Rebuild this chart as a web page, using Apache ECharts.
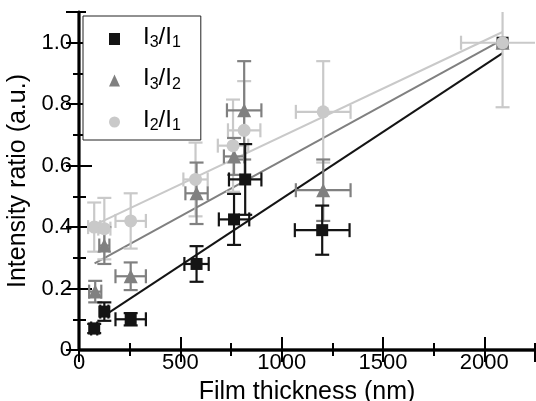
<!DOCTYPE html>
<html>
<head>
<meta charset="utf-8">
<script src="https://cdn.jsdelivr.net/npm/echarts@6/dist/echarts.min.js"></script>
<style>
  html, body { margin: 0; padding: 0; background: #fff; }
  #chart { width: 536px; height: 401px; }
</style>
</head>
<body>
<div id="chart"></div>
<script>
// Film thickness (nm) with its spread, and intensity ratio with its spread
const i31Thickness    = [75, 125, 255, 580, 765, 820, 1200, 2090];
const i31Ratio        = [0.07, 0.125, 0.10, 0.28, 0.425, 0.555, 0.39, 1.0];
const i31ThicknessErr = [15, 20, 75, 60, 75, 80, 135, 0];
const i31RatioErr     = [0.015, 0.03, 0.02, 0.058, 0.083, 0.115, 0.08, 0];

const i32Thickness    = [80, 125, 255, 580, 765, 815, 1205, 2090];
const i32Ratio        = [0.19, 0.34, 0.24, 0.51, 0.63, 0.78, 0.52, 1.0];
const i32ThicknessErr = [30, 25, 75, 55, 50, 85, 135, 0];
const i32RatioErr     = [0.035, 0.06, 0.045, 0.10, 0.06, 0.16, 0.10, 0];

const i21Thickness    = [75, 125, 255, 575, 760, 815, 1205, 2090];
const i21Ratio        = [0.40, 0.395, 0.42, 0.555, 0.665, 0.715, 0.775, 1.0];
const i21ThicknessErr = [30, 30, 75, 60, 75, 80, 135, 205];
const i21RatioErr     = [0.08, 0.10, 0.09, 0.12, 0.15, 0.16, 0.165, 0.21];

// Linear fits: [thickness, ratio] at both ends
const i31Fit = [[125, 0.112], [2090, 0.966]];
const i32Fit = [[77, 0.282], [2090, 1.01]];
const i21Fit = [[70, 0.405], [2090, 1.035]];

// Legend names and their subscripts
const seriesNames = ['I3/I1', 'I3/I2', 'I2/I1'];
const seriesSubs  = [['3', '1'], ['3', '2'], ['2', '1']];

const X_MAX = 2250, Y_MAX = 1.1;
const FONT = 'Liberation Sans, Arial, sans-serif';
const BLACK = '#141414', DARK = '#808080', LIGHT = '#c9c9c9';

function rows(xs, ys, dxs, dys) {
  return xs.map((x, i) => [x, ys[i], dxs[i], dys[i]]);
}

function errorBars(color) {
  return function (params, api) {
    const x = api.value(0), y = api.value(1), dx = api.value(2), dy = api.value(3);
    const c = api.coord([x, y]);
    const cap = 7;
    const style = { stroke: color, lineWidth: 2.2, fill: null };
    const kids = [];
    const seg = (x1, y1, x2, y2) => kids.push({ type: 'line', shape: { x1, y1, x2, y2 }, style });
    if (dy > 0) {
      const t = api.coord([x, y + dy])[1], b = api.coord([x, y - dy])[1];
      seg(c[0], t, c[0], b);
      seg(c[0] - cap, t, c[0] + cap, t);
      seg(c[0] - cap, b, c[0] + cap, b);
    }
    if (dx > 0) {
      const l = api.coord([x - dx, y])[0], r = api.coord([x + dx, y])[0];
      seg(l, c[1], r, c[1]);
      seg(l, c[1] - cap, l, c[1] + cap);
      seg(r, c[1] - cap, r, c[1] + cap);
    }
    return { type: 'group', children: kids };
  };
}

const axisLine = { show: true, lineStyle: { color: '#000', width: 2.4 } };

function xAxis(pos, interval, tickLen, labels) {
  return {
    type: 'value', position: pos, min: 0, max: X_MAX, interval,
    axisLine, splitLine: { show: false },
    axisTick: { show: true, inside: true, length: tickLen, lineStyle: { color: '#000', width: 2 } },
    axisLabel: labels ? {
      show: true, fontSize: 22, color: '#000', fontFamily: FONT, margin: 2, showMaxLabel: false,
      formatter: v => String(v)
    } : { show: false },
    name: labels ? 'Film thickness (nm)' : '',
    nameLocation: 'middle', nameGap: 30,
    nameTextStyle: { fontSize: 25, color: '#000', fontFamily: FONT }
  };
}

function yAxis(pos, interval, tickLen, labels) {
  return {
    type: 'value', position: pos, min: 0, max: Y_MAX, interval,
    axisLine, splitLine: { show: false },
    axisTick: { show: true, inside: true, length: tickLen, lineStyle: { color: '#000', width: 2 } },
    axisLabel: labels ? {
      show: true, fontSize: 22, color: '#000', fontFamily: FONT, margin: 7, showMaxLabel: false,
      formatter: v => (v === 0 ? '0' : v.toFixed(1))
    } : { show: false },
    name: labels ? 'Intensity ratio (a.u.)' : '',
    nameLocation: 'middle', nameGap: 43,
    nameTextStyle: { fontSize: 25, color: '#000', fontFamily: FONT }
  };
}

const groups = [
  { name: seriesNames[0], color: BLACK, symbol: 'rect', size: 12,
    data: rows(i31Thickness, i31Ratio, i31ThicknessErr, i31RatioErr), fit: i31Fit },
  { name: seriesNames[1], color: DARK, symbol: 'triangle', size: 14,
    data: rows(i32Thickness, i32Ratio, i32ThicknessErr, i32RatioErr), fit: i32Fit },
  { name: seriesNames[2], color: LIGHT, symbol: 'circle', size: 13,
    data: rows(i21Thickness, i21Ratio, i21ThicknessErr, i21RatioErr), fit: i21Fit }
];

const series = [];
groups.forEach(g => {
  series.push({
    type: 'line', data: g.fit, showSymbol: false, silent: true, z: 1,
    lineStyle: { color: g.color, width: 2 }, animation: false
  });
});
groups.slice().reverse().forEach(g => {
  series.push({
    type: 'custom', data: g.data, encode: { x: 0, y: 1 }, clip: true, z: 2,
    renderItem: errorBars(g.color), silent: true, animation: false
  });
});
groups.forEach(g => {
  series.push({
    type: 'scatter', name: g.name, data: g.data.map(r => [r[0], r[1]]),
    symbol: g.symbol, symbolSize: g.size, z: 3,
    itemStyle: { color: g.color, opacity: 1 }, animation: false
  });
});

const chart = echarts.init(document.getElementById('chart'), null, { renderer: 'canvas' });
chart.setOption({
  animation: false,
  backgroundColor: '#fff',
  textStyle: { fontFamily: FONT },
  grid: { left: 79, right: 1, top: 12, bottom: 51, containLabel: false, outerBoundsMode: 'none' },
  xAxis: [
    xAxis('bottom', 500, 13, true),
    xAxis('bottom', 250, 7, false),
    xAxis('top', 500, 12, false),
    xAxis('top', 250, 6, false)
  ],
  yAxis: [
    yAxis('left', 0.2, 13, true),
    yAxis('left', 0.1, 7, false),
    yAxis('right', 0.2, 13, false),
    yAxis('right', 0.1, 6, false)
  ],
  legend: {
    orient: 'vertical', left: 83, top: 16,
    padding: [3, 20, 6, 26], itemGap: 9.5,
    itemWidth: 11, itemHeight: 12,
    borderColor: '#222', borderWidth: 1, backgroundColor: '#fff',
    selectedMode: false,
    data: seriesNames,
    formatter: name => {
      const s = seriesSubs[seriesNames.indexOf(name)];
      return '{g| }{m|I}{s|' + s[0] + '}{m|/I}{s|' + s[1] + '}';
    },
    textStyle: {
      color: '#000', fontFamily: FONT,
      rich: {
        g: { width: 18, lineHeight: 14, verticalAlign: 'bottom' },
        m: { fontSize: 24, lineHeight: 24, padding: [6, 0, 2, 0], verticalAlign: 'bottom', color: '#000', fontFamily: FONT },
        s: { fontSize: 16, lineHeight: 14, verticalAlign: 'bottom', color: '#000', fontFamily: FONT }
      }
    }
  },
  series
});
</script>
</body>
</html>
